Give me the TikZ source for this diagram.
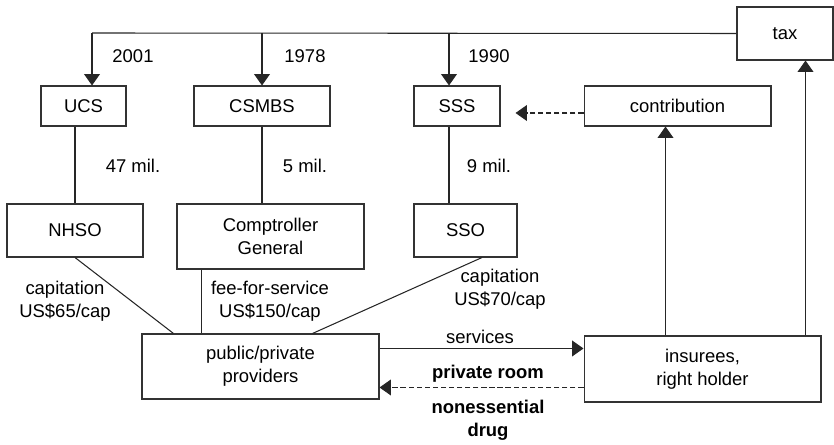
\documentclass[tikz,border=0pt]{standalone}
\usepackage{fontspec}
\setmainfont{Liberation Sans}
\usetikzlibrary{arrows.meta, positioning, calc}
\tikzset{
  box/.style={
    rectangle, draw=black!80, line width=0.6pt, fill=white,
    align=center, inner sep=2pt,
    font=\fontsize{10.5}{13}\selectfont
  },
  lbl/.style={align=center, inner sep=0pt, font=\fontsize{10.5}{13}\selectfont},
  blbl/.style={align=center, inner sep=0pt, font=\fontsize{10.5}{13}\selectfont\bfseries},
  link/.style={line width=0.6pt, draw=black!85},
  arrow/.style={-{Triangle[width=9pt,length=6.5pt]}, link},
  darrow/.style={arrow, dash pattern=on 3pt off 1.6pt}
}
\begin{document}
\begin{tikzpicture}[x=0.02cm, y=-0.02cm]
  \useasboundingbox (0,0) rectangle (834,445);

  \node[box, minimum width=1.92cm, minimum height=1.06cm] at (785,33.5) (tax) {tax};
  \node[box, minimum width=1.7cm, minimum height=0.8cm] at (83.5,106) (ucs) {UCS};
  \node[box, minimum width=2.72cm, minimum height=0.8cm] at (262,106) (csmbs) {CSMBS};
  \node[box, minimum width=1.72cm, minimum height=0.8cm] at (457,106) (sss) {SSS};
  \node[box, minimum width=3.74cm, minimum height=0.8cm] at (677.5,106) (contrib) {contribution};
  \node[box, minimum width=2.72cm, minimum height=1.06cm] at (75,230.5) (nhso) {NHSO};
  \node[box, minimum width=3.74cm, minimum height=1.3cm] at (270.5,236.5) (comp) {Comptroller\\General};
  \node[box, minimum width=2.06cm, minimum height=1.06cm] at (465.5,230.5) (sso) {SSO};
  \node[box, minimum width=4.74cm, minimum height=1.3cm] at (260.5,366.5) (prov) {public/private\\providers};
  \node[box, minimum width=4.74cm, minimum height=1.32cm] at (702.5,369) (ins) {insurees,\\right holder};

  \coordinate (t1) at (92,33);
  \coordinate (t2) at (262,33);
  \coordinate (t3) at (449,33);
  \draw[link] (tax.west) -- (t1);
  \draw[arrow] (t1) -- (t1 |- ucs.north);
  \draw[arrow] (t2) -- (t2 |- csmbs.north);
  \draw[arrow] (t3) -- (t3 |- sss.north);

  \node[lbl] at (133,56) (y1) {2001};
  \node[lbl] at (305,56) (y2) {1978};
  \node[lbl] at (489,56) (y3) {1990};

  \draw[link] (nhso.north |- ucs.south) -- (nhso.north);
  \draw[link] (csmbs.south) -- (csmbs.south |- comp.north);
  \draw[link] (t3 |- sss.south) -- (t3 |- sso.north);

  \node[lbl] at (133,166) (m1) {47 mil.};
  \node[lbl] at (305,166) (m2) {5 mil.};
  \node[lbl] at (489,166) (m3) {9 mil.};

  \coordinate (p1) at ($(prov.north west)+(32,0)$);
  \coordinate (p2) at ($(comp.south west)+(25,0)$);
  \coordinate (p3) at ($(prov.north west)+(171,0)$);
  \draw[link] (nhso.south) -- (p1);
  \draw[link] (p2) -- (p2 |- prov.north);
  \draw[link] ($(sso.south)+(16.5,0)$) -- (p3);

  \node[lbl] at (65,301.5) (cap1) {capitation\\US\$65/cap};
  \node[lbl] at (270,301.5) (ffs) {fee-for-service\\US\$150/cap};
  \node[lbl] at (500,289.5) (cap2) {capitation\\US\$70/cap};

  \coordinate (s1) at ($(prov.north east)+(0,15)$);
  \coordinate (s2) at ($(ins.north west)+(0,52)$);
  \draw[arrow] (s1) -- (s1 -| ins.west);
  \draw[darrow] (s2) -- (s2 -| prov.east);
  \node[lbl] at (480,337) (serv) {services};
  \node[blbl] at (488,374) (room) {private room};
  \node[blbl] at (488,420.5) (drug) {nonessential\\drug};

  \coordinate (u1) at ($(ins.north west)+(82,0)$);
  \coordinate (u2) at ($(ins.north west)+(222,0)$);
  \draw[arrow] (u1) -- (u1 |- contrib.south);
  \draw[arrow] (u2) -- (u2 |- tax.south);
  \draw[darrow] ($(contrib.west)+(0,7)$) -- ($(sss.east)+(15,7)$);
\end{tikzpicture}
\end{document}
